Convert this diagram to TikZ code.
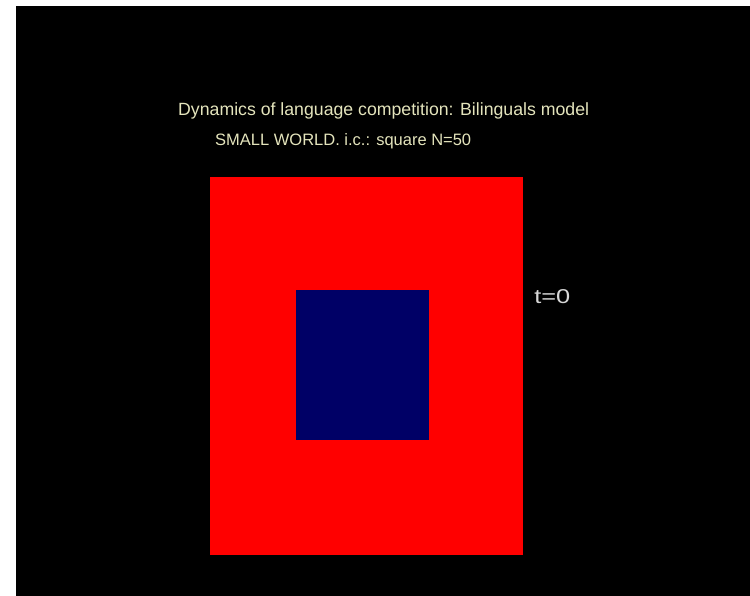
\documentclass[tikz,border=0pt]{standalone}
\usepackage{fontspec}
\setmainfont{Liberation Sans}
\definecolor{captxt}{RGB}{228,228,188}
\definecolor{ttxt}{RGB}{215,215,215}
\definecolor{navy}{RGB}{0,0,102}
\begin{document}
\begin{tikzpicture}[x=1pt,y=-1pt,
  lbl/.style={inner sep=0pt,anchor=base west,text=captxt},
  region/.style={draw=none,inner sep=0pt,anchor=north west}]
\useasboundingbox (0,0) rectangle (750,596);
\fill[white] (0,0) rectangle (750,596);
\fill[black] (16,6) rectangle (750,596);
\node[region,fill=red,minimum width=313pt,minimum height=378pt] (outer) at (210,177) {};
\node[region,fill=navy,minimum width=133pt,minimum height=150pt] (inner) at (296,290) {};
\node[lbl,font=\fontsize{17.7}{18}\selectfont] (title) at (178,116) {Dynamics of language competition: Bilinguals model};
\node[lbl,font=\fontsize{16.5}{17}\selectfont] (sub) at (215,146) {SMALL WORLD. i.c.: square N=50};
\node[lbl,text=ttxt,font=\fontsize{20}{20}\selectfont,xscale=1.27,transform shape] (t) at (534,303) {t=0};
\end{tikzpicture}
\end{document}
